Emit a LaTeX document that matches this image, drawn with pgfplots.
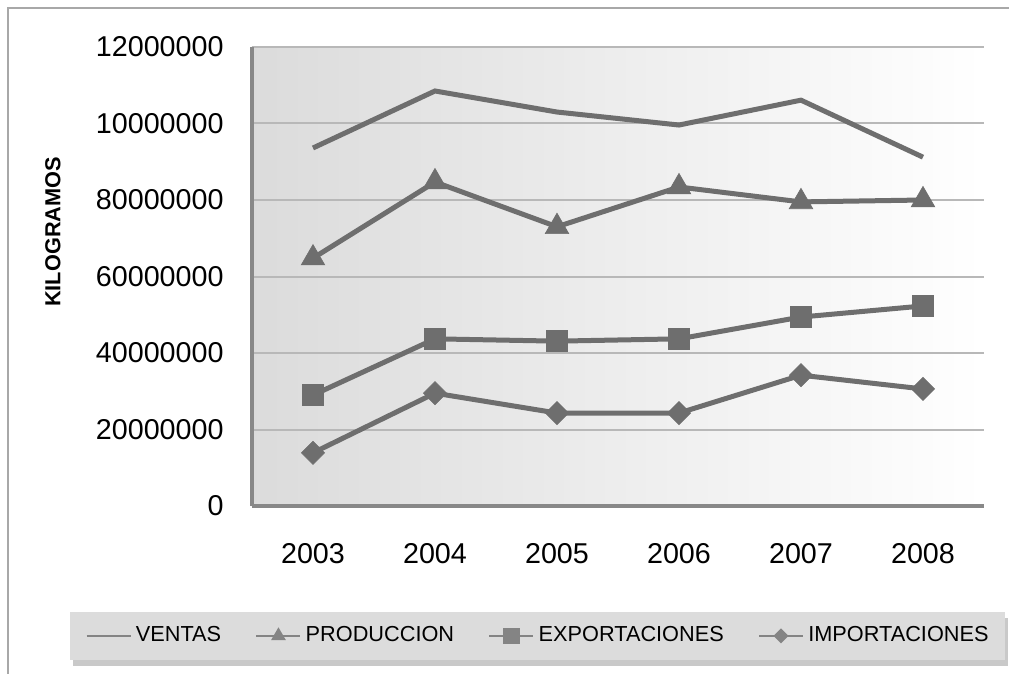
\documentclass[border=0pt]{standalone}
\usepackage{pgfplots}
\pgfplotsset{compat=1.18}
\usepackage{fontspec}
\setmainfont{Liberation Sans}

\definecolor{serie}{HTML}{6E6E6E}
\definecolor{rejilla}{HTML}{B8B8B8}
\definecolor{eje}{HTML}{888888}
\definecolor{marco}{HTML}{A8A8A8}
\definecolor{leyenda}{HTML}{DCDCDC}

% valores en millones de kilogramos
\pgfplotstableread{
x ventas produccion exportaciones importaciones
0 93.6  64.8 29.0 13.9
1 108.5 84.7 43.7 29.5
2 103.0 73.0 43.1 24.3
3 99.6  83.4 43.7 24.3
4 106.1 79.5 49.4 34.2
5 91.2  80.0 52.3 30.6
}\datos

\begin{document}
\begin{tikzpicture}
  % 1 px de la referencia = 0.5bp; origen en la esquina inferior izquierda del area
  \useasboundingbox (-126bp,-84bp) rectangle (378.5bp,253bp);
  \draw[marco, line width=0.8bp] (-122bp,-120bp) -- (-122bp,249bp) -- (420bp,249bp);
  % caja de la leyenda con sombra
  \fill[black!30, opacity=0.7] (-89.5bp,-56bp) rectangle (378bp,-80bp);
  \fill[leyenda] (-91bp,-53bp) rectangle (376.5bp,-77bp);
  \begin{axis}[
    scale only axis,
    width=366bp, height=229.5bp,
    xmin=-0.5, xmax=5.5,
    ymin=0, ymax=120,
    xtick={0,...,5},
    xticklabels={2003,2004,2005,2006,2007,2008},
    ytick={0,20,...,120},
    yticklabels={0,20000000,40000000,60000000,80000000,10000000,12000000},
    major tick length=0pt,
    tick label style={font=\fontsize{14.4}{17}\selectfont, inner sep=0pt},
    yticklabel style={anchor=east, xshift=-14bp},
    xticklabel style={anchor=north, yshift=-18.5bp},
    axis x line*=bottom,
    axis y line*=left,
    axis line style={-, draw=eje, line width=2bp},
    ymajorgrids,
    grid style={draw=rejilla, line width=1bp},
    axis background/.style={shade, left color=black!14, right color=white},
    ylabel={KILOGRAMOS},
    ylabel style={at={(axis description cs:-0.272,0.597)}, anchor=center,
      font=\bfseries\fontsize{10.9}{13}\selectfont},
    legend columns=4,
    legend style={at={(axis description cs:0.392,-0.283)}, anchor=center,
      fill=none, draw=none, inner xsep=0bp, inner ysep=0bp,
      font=\fontsize{10.9}{12}\selectfont,
      /tikz/every even column/.append style={column sep=15bp}},
    legend image code/.code={\draw[mark repeat=2, mark phase=2, #1]
      plot coordinates {(0bp,0bp) (11bp,0bp) (22bp,0bp)};},
  ]
    \addplot[serie, line width=2.5bp, forget plot] table[x=x, y=ventas] {\datos};
    \addplot[serie, line width=2.5bp, mark=triangle*, mark size=6.8bp,
      mark options={solid, line width=0.3bp}, forget plot]
      table[x=x, y=produccion] {\datos};
    \addplot[serie, line width=2.5bp, mark=square*, mark size=5.3bp,
      mark options={solid, line width=0.3bp}, forget plot]
      table[x=x, y=exportaciones] {\datos};
    \addplot[serie, line width=2.5bp, mark=square*, mark size=4.1bp,
      mark options={solid, rotate=45, line width=0.3bp}, forget plot]
      table[x=x, y=importaciones] {\datos};

    \addlegendimage{serie!85, line width=1.3bp}
    \addlegendentry{VENTAS}
    \addlegendimage{serie!85, line width=1.3bp, mark=triangle*, mark size=3bp}
    \addlegendentry{PRODUCCION}
    \addlegendimage{serie!85, line width=1.3bp, mark=square*, mark size=3.5bp}
    \addlegendentry{EXPORTACIONES}
    \addlegendimage{serie!85, line width=1.3bp, mark=square*, mark size=2bp,
      mark options={rotate=45}}
    \addlegendentry{IMPORTACIONES}
  \end{axis}
\end{tikzpicture}
\end{document}
